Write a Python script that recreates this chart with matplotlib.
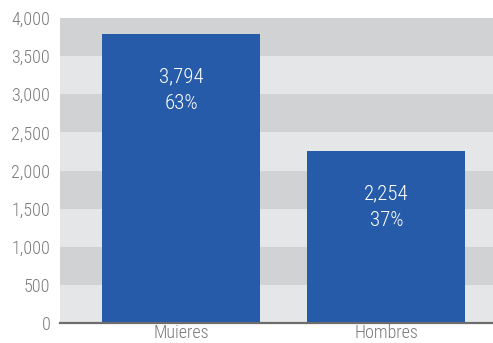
import matplotlib
matplotlib.use('Agg')
import matplotlib.pyplot as plt

plt.rcParams['font.family'] = ['Roboto Condensed', 'Open Sans', 'DejaVu Sans']
plt.rcParams['font.weight'] = 'light'

categorias = ['Muieres', 'Hombres']
valores = [3794, 2254]
porcentajes = ['63%', '37%']
yticks = [0, 500, 1000, 1500, 2000, 2500, 3000, 3500, 4000]

azul = '#255ba8'
gris_claro = '#e5e6e8'
gris_oscuro = '#d1d2d4'

fig = plt.figure(figsize=(4.93, 3.43), dpi=100)
ax = fig.add_axes([60 / 493, 20 / 343, 433 / 493, 305 / 343])

# franjas horizontales del fondo
for i in range(len(yticks) - 1):
    color = gris_claro if i % 2 == 0 else gris_oscuro
    ax.axhspan(yticks[i], yticks[i + 1], color=color, lw=0, zorder=0)

x = range(len(categorias))
ax.bar(x, valores, width=0.77, color=azul, zorder=2)

for xi, v, p in zip(x, valores, porcentajes):
    ax.annotate(f'{v:,}', (xi, v), xytext=(0, -31), textcoords='offset points',
                ha='center', va='center', color='white', fontsize=15, zorder=3)
    ax.annotate(p, (xi, v), xytext=(0, -50), textcoords='offset points',
                ha='center', va='center', color='white', fontsize=15, zorder=3)

ax.set_xlim(-0.59, 1.52)
ax.set_ylim(0, 4000)
ax.set_yticks(yticks)
ax.set_yticklabels([f'{t:,}' for t in yticks])
ax.set_xticks(list(x))
ax.set_xticklabels(categorias)
ax.tick_params(axis='both', length=0, labelsize=13, labelcolor='#7a7a7a')
ax.tick_params(axis='y', pad=7)
ax.tick_params(axis='x', pad=1)

for s in ['top', 'right', 'left']:
    ax.spines[s].set_visible(False)
ax.spines['bottom'].set_color('#6d6d6d')
ax.spines['bottom'].set_linewidth(1.6)
ax.spines['bottom'].set_zorder(4)

fig.savefig('out.png', dpi=100)
